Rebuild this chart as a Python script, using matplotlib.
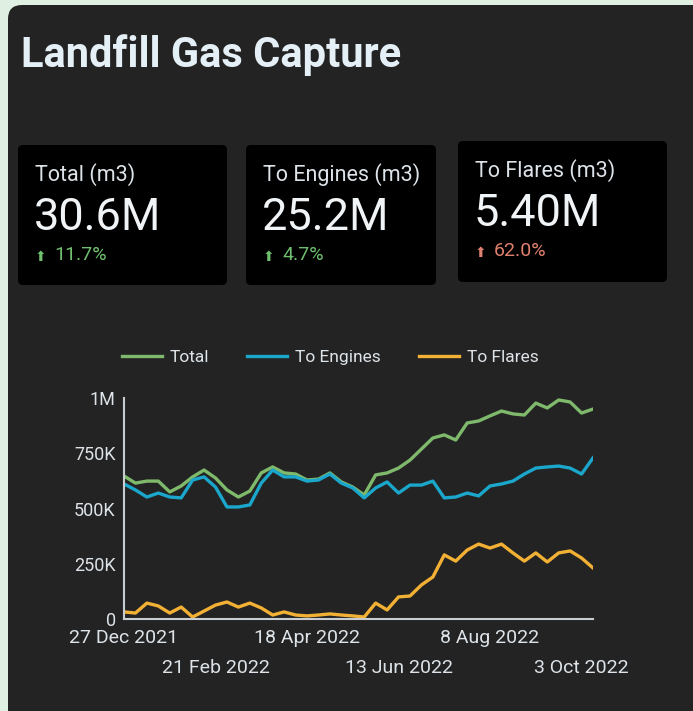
import numpy as np
import matplotlib
matplotlib.use("Agg")
import matplotlib.pyplot as plt
from matplotlib.patches import FancyBboxPatch

plt.rcParams['font.family'] = ['Roboto', 'DejaVu Sans']

# DATOS

# semanas desde el 27 dic 2021
fechas = np.arange(np.datetime64('2021-12-27'), np.datetime64('2022-10-17'), np.timedelta64(7, 'D'))

total = [647, 615, 624, 624, 575, 602, 643, 674, 638, 584,
         552, 579, 661, 688, 661, 656, 629, 633, 661, 620,
         597, 561, 652, 661, 683, 719, 769, 819, 833, 810,
         887, 896, 919, 941, 928, 923, 977, 955, 991, 982,
         932, 950]
motores = [611, 584, 552, 570, 552, 548, 629, 643, 597, 507,
           507, 516, 615, 674, 643, 643, 624, 629, 656, 615,
           593, 548, 593, 620, 570, 606, 606, 624, 548, 552,
           570, 557, 602, 611, 624, 656, 683, 688, 692, 683,
           656, 729]
antorchas = [32, 27, 72, 59, 27, 54, 9, 36, 63, 77,
             54, 72, 50, 18, 32, 18, 14, 18, 23, 18,
             14, 9, 72, 41, 100, 104, 154, 190, 290, 262,
             312, 339, 321, 339, 299, 262, 299, 258, 299, 308,
             276, 231]

series = ["Total", "To Engines", "To Flares"]

# tarjetas KPI
kpi_titulos = ["Total (m3)", "To Engines (m3)", "To Flares (m3)"]
kpi_valores = ["30.6M", "25.2M", "5.40M"]
kpi_cambios = ["11.7%", "4.7%", "62.0%"]

y_ticks = [0, 250000, 500000, 750000, 1000000]
y_labels = ["0", "250K", "500K", "750K", "1M"]

fila1_idx = [0, 16, 32]
fila1_labels = ["27 Dec 2021", "18 Apr 2022", "8 Aug 2022"]
fila2_idx = [8, 24, 40]
fila2_labels = ["21 Feb 2022", "13 Jun 2022", "3 Oct 2022"]

# COLORES
VERDE = "#7fba6c"
AZUL = "#1aa7cb"
NARANJA = "#f2b134"
FONDO = "#232323"
TEXTO = "#dde3e8"

W, H = 693, 711
fig = plt.figure(figsize=(W / 100, H / 100), dpi=100)
fig.patch.set_facecolor("#dff0e2")

# capa de fondo en coordenadas de pixel
bg = fig.add_axes([0, 0, 1, 1])
bg.set_xlim(0, W)
bg.set_ylim(H, 0)
bg.axis("off")
bg.add_patch(FancyBboxPatch((8, 5), W + 20, H + 20, boxstyle="round,pad=0,rounding_size=14",
                            facecolor=FONDO, edgecolor="none"))

bg.text(21, 67, "Landfill Gas Capture", fontsize=30, fontweight="bold",
        color="#e4eff6", va="baseline", ha="left")

cajas = [(18, 145, 209, 140), (246, 145, 190, 140), (458, 141, 209, 141)]
colores_cambio = ["#6fbf6f", "#6fbf6f", "#e0806e"]
for i, (x0, y0, w, h) in enumerate(cajas):
    bg.add_patch(FancyBboxPatch((x0, y0), w, h, boxstyle="round,pad=0,rounding_size=5",
                                facecolor="#000000", edgecolor="none"))
    bg.text(x0 + 17, y0 + 36, kpi_titulos[i], fontsize=15.5, color=TEXTO, va="baseline")
    bg.text(x0 + 16, y0 + 85, kpi_valores[i], fontsize=32.5, color="#f0f4f7", va="baseline")
    bg.text(x0 + 17, y0 + 116, "\u2B06", fontsize=10, color=colores_cambio[i], va="baseline",
            family=["DejaVu Sans"])
    bg.text(x0 + 36, y0 + 115, kpi_cambios[i], fontsize=14, color=colores_cambio[i], va="baseline")

# GRAFICA
ax = fig.add_axes([124 / W, 1 - 619 / H, (593 - 124) / W, (619 - 398) / H])
ax.set_facecolor("none")
fechas_mpl = fechas.astype("datetime64[D]")
ax.plot(fechas_mpl, np.array(total) * 1000, color=VERDE, lw=2.4, label=series[0])
ax.plot(fechas_mpl, np.array(motores) * 1000, color=AZUL, lw=2.4, label=series[1])
ax.plot(fechas_mpl, np.array(antorchas) * 1000, color=NARANJA, lw=2.4, label=series[2])

ax.set_xlim(fechas_mpl[0], fechas_mpl[-1])
ax.set_ylim(0, 1000000)
ax.set_yticks(y_ticks)
ax.set_yticklabels(y_labels)
ax.set_xticks([fechas_mpl[i] for i in fila1_idx])
ax.set_xticklabels(fila1_labels)
ax.set_xticks([fechas_mpl[i] for i in fila2_idx], minor=True)
ax.set_xticklabels(fila2_labels, minor=True)

for lado in ["top", "right"]:
    ax.spines[lado].set_visible(False)
for lado in ["left", "bottom"]:
    ax.spines[lado].set_color("#c8cdd2")
    ax.spines[lado].set_linewidth(1.5)

ax.tick_params(axis="both", which="both", length=0, colors=TEXTO)
ax.tick_params(axis="y", pad=6, labelsize=13)
ax.tick_params(axis="x", which="both", labelsize=14)
ax.tick_params(axis="x", which="major", pad=7)
ax.tick_params(axis="x", which="minor", pad=29)

leg = ax.legend(loc="lower center", bbox_to_anchor=(0.44, 1.08), ncol=3, frameon=False,
                fontsize=12.5, handlelength=2.3, columnspacing=2.2, handletextpad=0.45)
for t in leg.get_texts():
    t.set_color(TEXTO)

fig.savefig("out.png", dpi=100, facecolor=fig.get_facecolor())
